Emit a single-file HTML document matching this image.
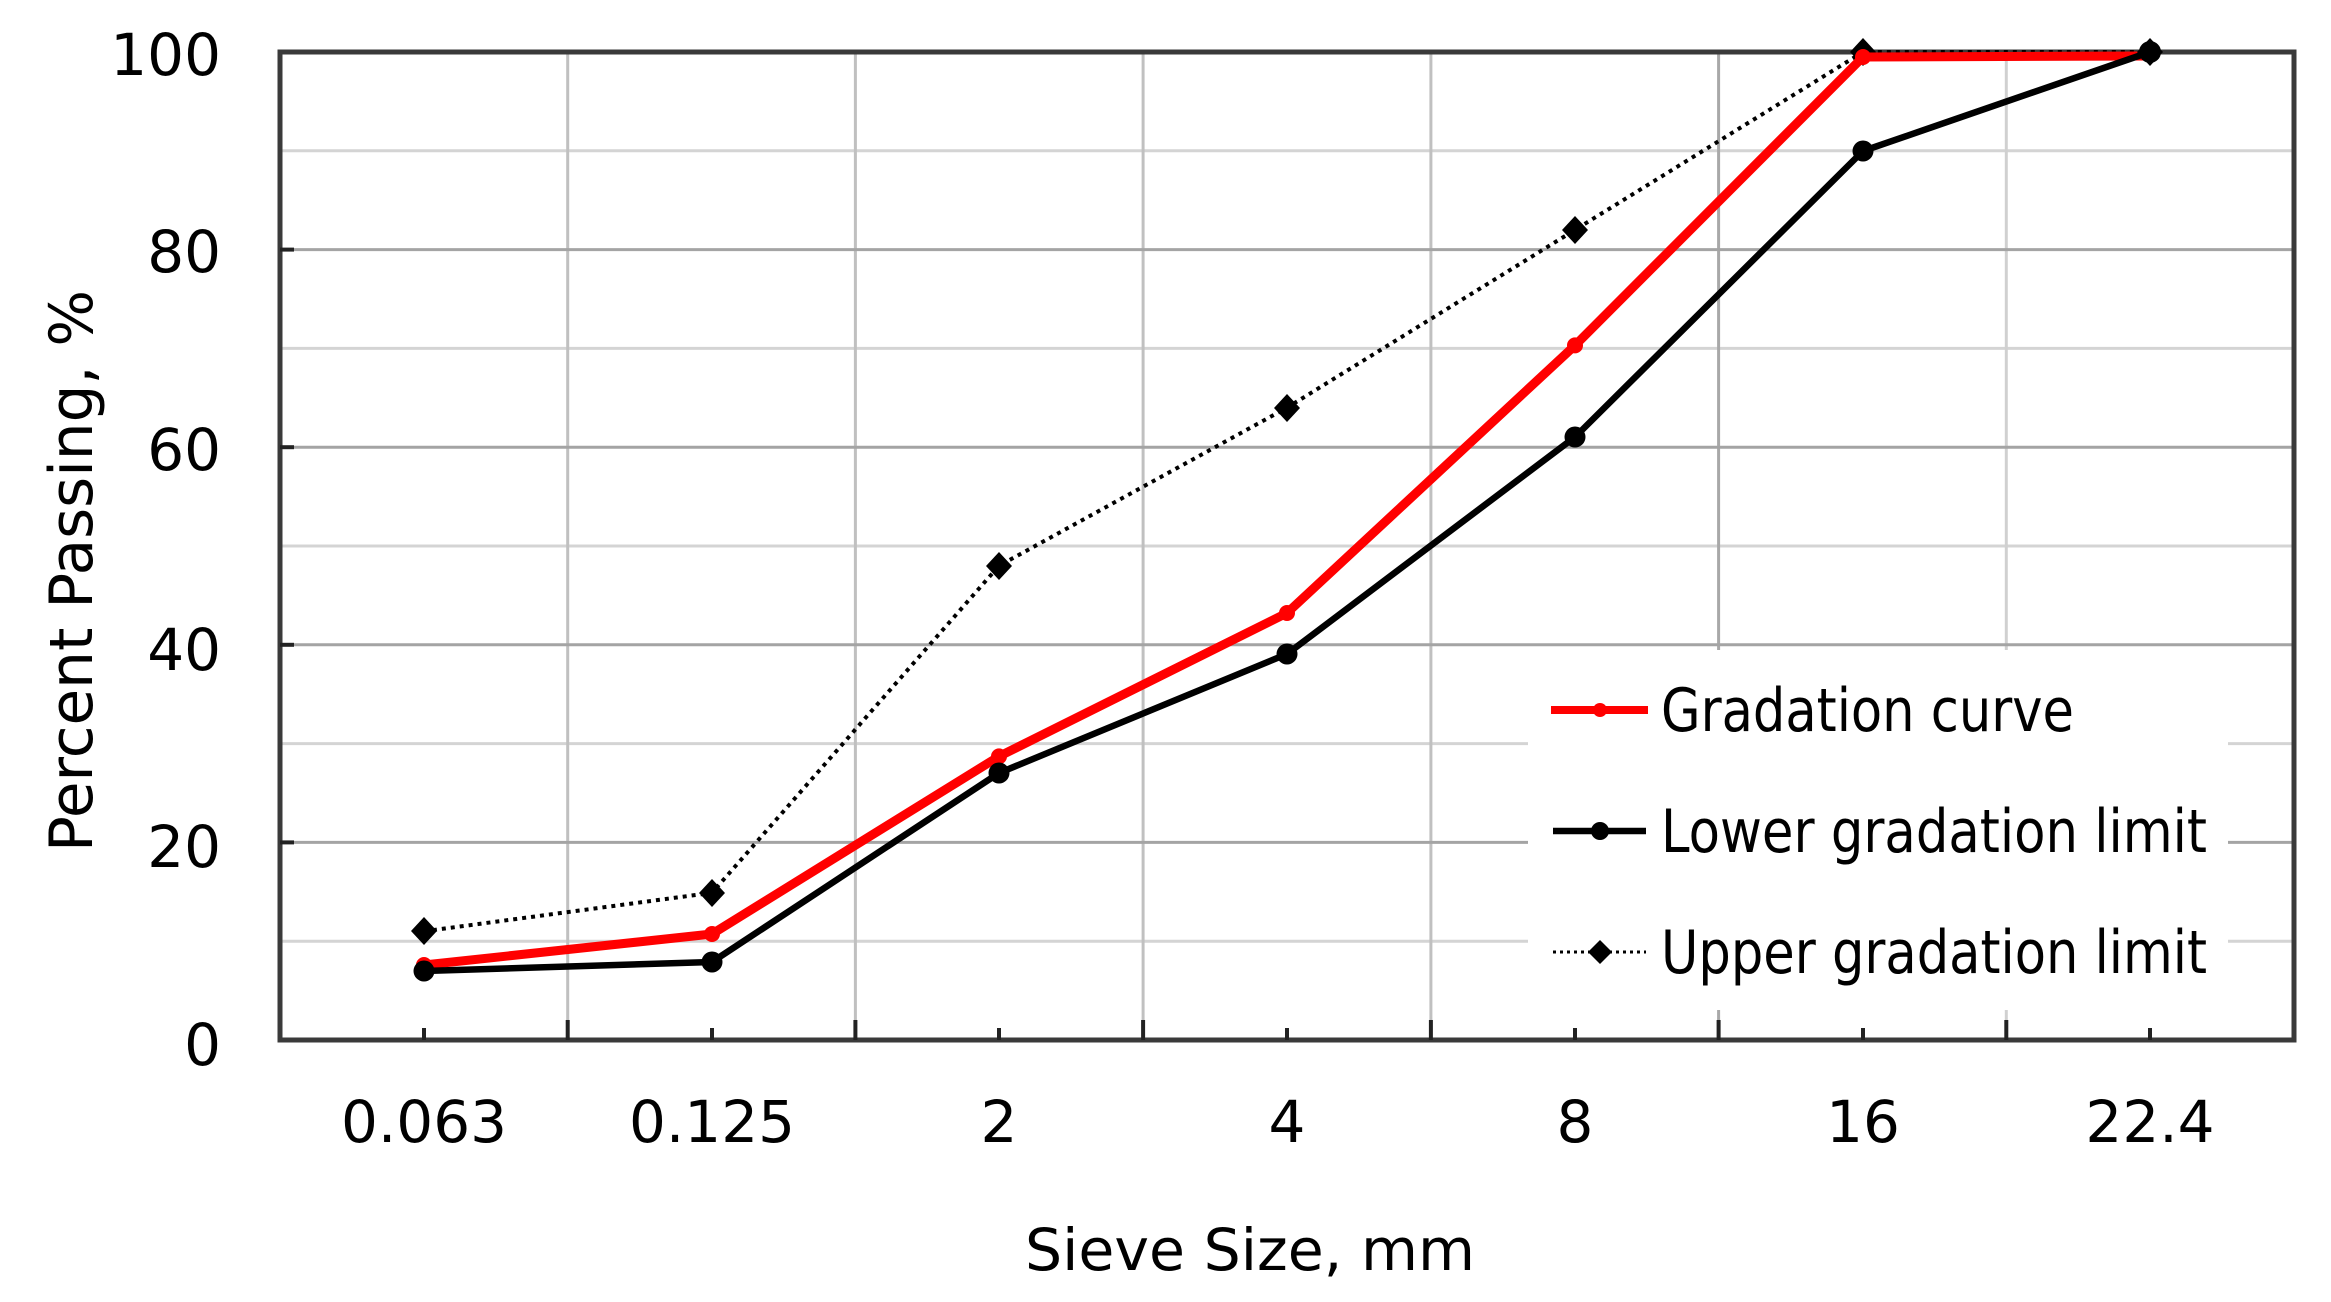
<!DOCTYPE html>
<html><head><meta charset="utf-8"><style>html,body{margin:0;padding:0;background:#fff}svg{display:block}</style></head>
<body>
<svg width="2331" height="1302" viewBox="0 0 2331 1302" xmlns="http://www.w3.org/2000/svg" font-family="'DejaVu Sans','Liberation Sans',sans-serif">
<rect width="2331" height="1302" fill="#fff"/>
<g stroke="#d4d4d4" stroke-width="3">
<line x1="280" x2="2294" y1="941.2" y2="941.2"/>
<line x1="280" x2="2294" y1="743.6" y2="743.6"/>
<line x1="280" x2="2294" y1="546" y2="546"/>
<line x1="280" x2="2294" y1="348.4" y2="348.4"/>
<line x1="280" x2="2294" y1="150.8" y2="150.8"/>
</g>
<g stroke="#c0c0c0" stroke-width="3">
<line x1="567.7" x2="567.7" y1="52" y2="1040"/>
<line x1="855.4" x2="855.4" y1="52" y2="1040"/>
<line x1="1143.1" x2="1143.1" y1="52" y2="1040"/>
<line x1="1430.9" x2="1430.9" y1="52" y2="1040"/>
<line x1="1718.6" x2="1718.6" y1="52" y2="1040" stroke="#a8a8a8"/>
<line x1="2006.3" x2="2006.3" y1="52" y2="1040" stroke="#d0d0d0"/>
</g>
<g stroke="#a4a4a4" stroke-width="3">
<line x1="280" x2="2294" y1="842.4" y2="842.4"/>
<line x1="280" x2="2294" y1="644.8" y2="644.8"/>
<line x1="280" x2="2294" y1="447.2" y2="447.2"/>
<line x1="280" x2="2294" y1="249.6" y2="249.6"/>
</g>
<rect x="1528" y="650" width="700" height="360" fill="#fff"/>
<rect x="280" y="52" width="2014" height="988" fill="none" stroke="#3a3a3a" stroke-width="5"/>
<g stroke="#222" stroke-width="4">
<line x1="424" x2="424" y1="1040" y2="1028"/>
<line x1="712" x2="712" y1="1040" y2="1028"/>
<line x1="999" x2="999" y1="1040" y2="1028"/>
<line x1="1287" x2="1287" y1="1040" y2="1028"/>
<line x1="1575" x2="1575" y1="1040" y2="1028"/>
<line x1="1863" x2="1863" y1="1040" y2="1028"/>
<line x1="2150" x2="2150" y1="1040" y2="1028"/>
<line x1="567.7" x2="567.7" y1="1040" y2="1020"/>
<line x1="855.4" x2="855.4" y1="1040" y2="1020"/>
<line x1="1143.1" x2="1143.1" y1="1040" y2="1020"/>
<line x1="1430.9" x2="1430.9" y1="1040" y2="1020"/>
<line x1="1718.6" x2="1718.6" y1="1040" y2="1020"/>
<line x1="2006.3" x2="2006.3" y1="1040" y2="1020"/>
<line x1="280" x2="294" y1="842.4" y2="842.4"/>
<line x1="280" x2="294" y1="644.8" y2="644.8"/>
<line x1="280" x2="294" y1="447.2" y2="447.2"/>
<line x1="280" x2="294" y1="249.6" y2="249.6"/>
</g>
<polyline fill="none" stroke="#000" stroke-width="4" stroke-dasharray="4 5" points="424,931.3 712,892.8 999,565.8 1287,407.7 1575,229.9 1863,52 2150,52"/>
<g fill="#000">
<path d="M424,917 l13,14 l-13,14 l-13,-14z"/>
<path d="M712,879 l13,14 l-13,14 l-13,-14z"/>
<path d="M999,552 l13,14 l-13,14 l-13,-14z"/>
<path d="M1287,394 l13,14 l-13,14 l-13,-14z"/>
<path d="M1575,216 l13,14 l-13,14 l-13,-14z"/>
<path d="M1863,38 l13,14 l-13,14 l-13,-14z"/>
</g>
<polyline fill="none" stroke="#ff0000" stroke-width="9" stroke-linejoin="round" points="424,965 712,934 999,756.4 1287,613 1575,345.4 1863,57 2150,56"/>
<g fill="#ff0000">
<circle cx="424" cy="965" r="8"/><circle cx="712" cy="934" r="8"/><circle cx="999" cy="756.4" r="8"/><circle cx="1287" cy="613" r="8"/><circle cx="1575" cy="345.4" r="8"/><circle cx="1863" cy="57" r="8"/>
</g>
<polyline fill="none" stroke="#000" stroke-width="6.5" stroke-linejoin="round" points="424,971 712,962 999,773 1287,654 1575,437 1863,151 2150,52"/>
<g fill="#000">
<circle cx="424" cy="971" r="10.5"/><circle cx="712" cy="962" r="10.5"/><circle cx="999" cy="773" r="10.5"/><circle cx="1287" cy="654" r="10.5"/><circle cx="1575" cy="437" r="10.5"/><circle cx="1863" cy="151" r="10.5"/><circle cx="2150" cy="52" r="11"/>
</g>
<path d="M2150,38 l13,14 l-13,14 l-13,-14z" fill="#000"/>
<line x1="1551" x2="1648" y1="710" y2="710" stroke="#ff0000" stroke-width="8"/>
<circle cx="1600" cy="710" r="7" fill="#ff0000"/>
<line x1="1553" x2="1646" y1="831" y2="831" stroke="#000" stroke-width="6.5"/>
<circle cx="1600" cy="831" r="9" fill="#000"/>
<line x1="1553" x2="1646" y1="952" y2="952" stroke="#000" stroke-width="3" stroke-dasharray="3 4"/>
<path d="M1600,940 l12,12 l-12,12 l-12,-12z" fill="#000"/>
<g font-size="60" fill="#000">
<text x="1661" y="731" textLength="413" lengthAdjust="spacingAndGlyphs">Gradation curve</text>
<text x="1661" y="852" textLength="546" lengthAdjust="spacingAndGlyphs">Lower gradation limit</text>
<text x="1661" y="973" textLength="546" lengthAdjust="spacingAndGlyphs">Upper gradation limit</text>
</g>
<g font-size="58" fill="#000" text-anchor="end">
<text x="221" y="75">100</text>
<text x="221" y="272">80</text>
<text x="221" y="670">40</text>
<text x="221" y="470">60</text>
<text x="221" y="867">20</text>
<text x="221" y="1065">0</text>
</g>
<g font-size="58" fill="#000" text-anchor="middle">
<text x="424" y="1142">0.063</text>
<text x="712" y="1142">0.125</text>
<text x="999" y="1142">2</text>
<text x="1287" y="1142">4</text>
<text x="1575" y="1142">8</text>
<text x="1863" y="1142">16</text>
<text x="2150" y="1142">22.4</text>
</g>
<text x="1025" y="1270" font-size="58" textLength="450" lengthAdjust="spacingAndGlyphs">Sieve Size, mm</text>
<text transform="translate(92,852) rotate(-90)" font-size="60" textLength="562" lengthAdjust="spacingAndGlyphs">Percent Passing, %</text>
</svg>
</body></html>
